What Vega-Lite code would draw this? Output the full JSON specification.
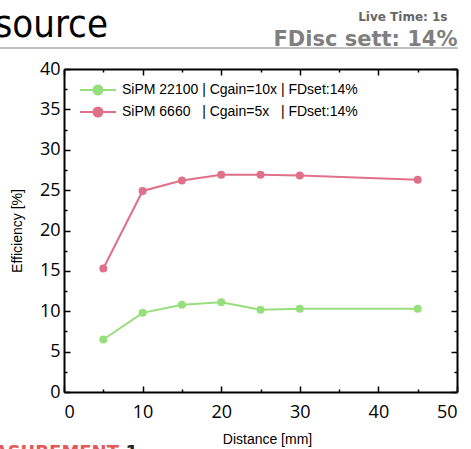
{
  "$schema": "https://vega.github.io/schema/vega-lite/v6.json",
  "width": 393,
  "height": 323,
  "autosize": {"type": "none"},
  "padding": {"left": 64, "top": 69, "right": 14, "bottom": 57},
  "background": "white",
  "config": {
    "view": {"stroke": null},
    "axis": {
      "grid": false,
      "domainColor": "black",
      "domainWidth": 2,
      "tickColor": "black",
      "tickWidth": 1.5,
      "labelFont": "Open Sans",
      "labelFontSize": 18,
      "labelColor": "black",
      "titleFont": "Liberation Sans",
      "titleFontSize": 14,
      "titleFontWeight": "normal",
      "titleColor": "black"
    }
  },
  "data": {
    "values": [
      {"distance": 5, "efficiency": 6.5, "series": "SiPM 22100 | Cgain=10x | FDset:14%"},
      {"distance": 10, "efficiency": 9.8, "series": "SiPM 22100 | Cgain=10x | FDset:14%"},
      {"distance": 15, "efficiency": 10.8, "series": "SiPM 22100 | Cgain=10x | FDset:14%"},
      {"distance": 20, "efficiency": 11.1, "series": "SiPM 22100 | Cgain=10x | FDset:14%"},
      {"distance": 25, "efficiency": 10.2, "series": "SiPM 22100 | Cgain=10x | FDset:14%"},
      {"distance": 30, "efficiency": 10.3, "series": "SiPM 22100 | Cgain=10x | FDset:14%"},
      {"distance": 45, "efficiency": 10.3, "series": "SiPM 22100 | Cgain=10x | FDset:14%"},
      {"distance": 5, "efficiency": 15.3, "series": "SiPM 6660\u00a0\u00a0\u00a0| Cgain=5x\u00a0\u00a0\u00a0| FDset:14%"},
      {"distance": 10, "efficiency": 24.9, "series": "SiPM 6660\u00a0\u00a0\u00a0| Cgain=5x\u00a0\u00a0\u00a0| FDset:14%"},
      {"distance": 15, "efficiency": 26.2, "series": "SiPM 6660\u00a0\u00a0\u00a0| Cgain=5x\u00a0\u00a0\u00a0| FDset:14%"},
      {"distance": 20, "efficiency": 26.9, "series": "SiPM 6660\u00a0\u00a0\u00a0| Cgain=5x\u00a0\u00a0\u00a0| FDset:14%"},
      {"distance": 25, "efficiency": 26.9, "series": "SiPM 6660\u00a0\u00a0\u00a0| Cgain=5x\u00a0\u00a0\u00a0| FDset:14%"},
      {"distance": 30, "efficiency": 26.8, "series": "SiPM 6660\u00a0\u00a0\u00a0| Cgain=5x\u00a0\u00a0\u00a0| FDset:14%"},
      {"distance": 45, "efficiency": 26.3, "series": "SiPM 6660\u00a0\u00a0\u00a0| Cgain=5x\u00a0\u00a0\u00a0| FDset:14%"}
    ]
  },
  "resolve": {"axis": {"x": "independent", "y": "independent"}},
  "layer": [
    {
      "mark": {"type": "line", "strokeWidth": 2},
      "encoding": {
        "x": {
          "field": "distance", "type": "quantitative",
          "scale": {"domain": [0, 50], "nice": false, "clamp": false},
          "axis": {
            "orient": "bottom",
            "values": [0, 5, 10, 15, 20, 25, 30, 35, 40, 45, 50],
            "labelExpr": "datum.value % 10 === 0 ? datum.label : ''",
            "tickSize": {"condition": {"test": "datum.value % 10 === 0", "value": -6}, "value": -3},
            "labelPadding": 17,
            "title": "Distance [mm]",
            "titleX": 203, "titleY": 51,
            "titleAlign": "center", "titleBaseline": "alphabetic"
          }
        },
        "y": {
          "field": "efficiency", "type": "quantitative",
          "scale": {"domain": [0, 40], "nice": false, "clamp": false},
          "axis": {
            "orient": "left",
            "values": [0, 2.5, 5, 7.5, 10, 12.5, 15, 17.5, 20, 22.5, 25, 27.5, 30, 32.5, 35, 37.5, 40],
            "labelExpr": "datum.value % 5 === 0 ? datum.label : ''",
            "tickSize": {"condition": {"test": "datum.value % 5 === 0", "value": -6}, "value": -3},
            "labelPadding": 10,
            "title": "Efficiency [%]",
            "titleAngle": 270,
            "titleX": -43, "titleY": 161.5,
            "titleAlign": "center", "titleBaseline": "alphabetic"
          }
        },
        "color": {
          "field": "series", "type": "nominal",
          "scale": {"range": ["#96df7c", "#e0708a"]},
          "legend": {
            "orient": "none",
            "legendX": 24,
            "legendY": 11,
            "padding": 0,
            "title": null,
            "symbolType": "M-2,0H2M-0.5,0A0.5,0.5,0,1,1,0.5,0A0.5,0.5,0,1,1,-0.5,0",
            "symbolSize": 324,
            "symbolStrokeWidth": 2,
            "labelOffset": 14,
            "rowPadding": 3,
            "labelFont": "Liberation Sans",
            "labelFontSize": 14,
            "labelColor": "black",
            "labelLimit": 400
          }
        }
      }
    },
    {
      "mark": {"type": "point", "filled": true, "size": 64, "opacity": 1},
      "encoding": {
        "x": {
          "field": "distance", "type": "quantitative",
          "axis": {
            "orient": "top",
            "values": [0, 5, 10, 15, 20, 25, 30, 35, 40, 45, 50],
            "labels": false,
            "tickSize": {"condition": {"test": "datum.value % 10 === 0", "value": -6}, "value": -3},
            "title": "source",
            "titleFont": "DejaVu Sans Condensed, sans-serif",
            "titleFontSize": 38,
            "titleX": -70, "titleY": -33,
            "titleAlign": "left", "titleBaseline": "alphabetic"
          }
        },
        "y": {
          "field": "efficiency", "type": "quantitative",
          "axis": {
            "orient": "right",
            "values": [0, 2.5, 5, 7.5, 10, 12.5, 15, 17.5, 20, 22.5, 25, 27.5, 30, 32.5, 35, 37.5, 40],
            "labels": false,
            "tickSize": {"condition": {"test": "datum.value % 5 === 0", "value": -6}, "value": -3},
            "title": "Live Time: 1s",
            "titleFont": "DejaVu Sans",
            "titleFontWeight": "bold",
            "titleFontSize": 12,
            "titleColor": "#666666",
            "titleAngle": 0,
            "titleX": -10, "titleY": -49,
            "titleAlign": "right", "titleBaseline": "alphabetic"
          }
        },
        "color": {"field": "series", "type": "nominal"}
      }
    },
    {
      "data": {"values": [{"x_start": -8.14, "x_end": 50.1, "level": 42.6}]},
      "mark": {"type": "rule", "color": "#c0c0c0", "strokeWidth": 2, "clip": false},
      "encoding": {
        "x": {
          "field": "x_start", "type": "quantitative",
          "axis": {
            "orient": "top",
            "offset": 21,
            "domain": false,
            "ticks": false,
            "labels": false,
            "title": "FDisc sett: 14%",
            "titleFont": "DejaVu Sans",
            "titleFontWeight": "bold",
            "titleFontSize": 21,
            "titleColor": "#7f7f7f",
            "titleX": 393, "titleY": -3,
            "titleAlign": "right", "titleBaseline": "alphabetic"
          }
        },
        "x2": {"field": "x_end"},
        "y": {
          "field": "level", "type": "quantitative",
          "axis": {
            "orient": "left",
            "domain": false,
            "ticks": false,
            "labels": false,
            "title": "MEASUREMENT",
            "titleFont": "DejaVu Sans",
            "titleFontWeight": "bold",
            "titleFontSize": 18,
            "titleColor": "#e05a5a",
            "titleAngle": 0,
            "titleX": -101, "titleY": 388,
            "titleAlign": "left", "titleBaseline": "alphabetic"
          }
        }
      }
    },
    {
      "mark": {"type": "point", "opacity": 0},
      "encoding": {
        "x": {
          "field": "distance", "type": "quantitative",
          "axis": {"orient": "bottom", "domain": false, "ticks": false, "labels": false, "title": null}
        },
        "y": {
          "field": "efficiency", "type": "quantitative",
          "axis": {
            "orient": "right",
            "domain": false,
            "ticks": false,
            "labels": false,
            "title": "1",
            "titleFont": "DejaVu Sans",
            "titleFontWeight": "bold",
            "titleFontSize": 18,
            "titleColor": "#222222",
            "titleAngle": 0,
            "titleX": -332, "titleY": 388,
            "titleAlign": "left", "titleBaseline": "alphabetic"
          }
        }
      }
    }
  ]
}
